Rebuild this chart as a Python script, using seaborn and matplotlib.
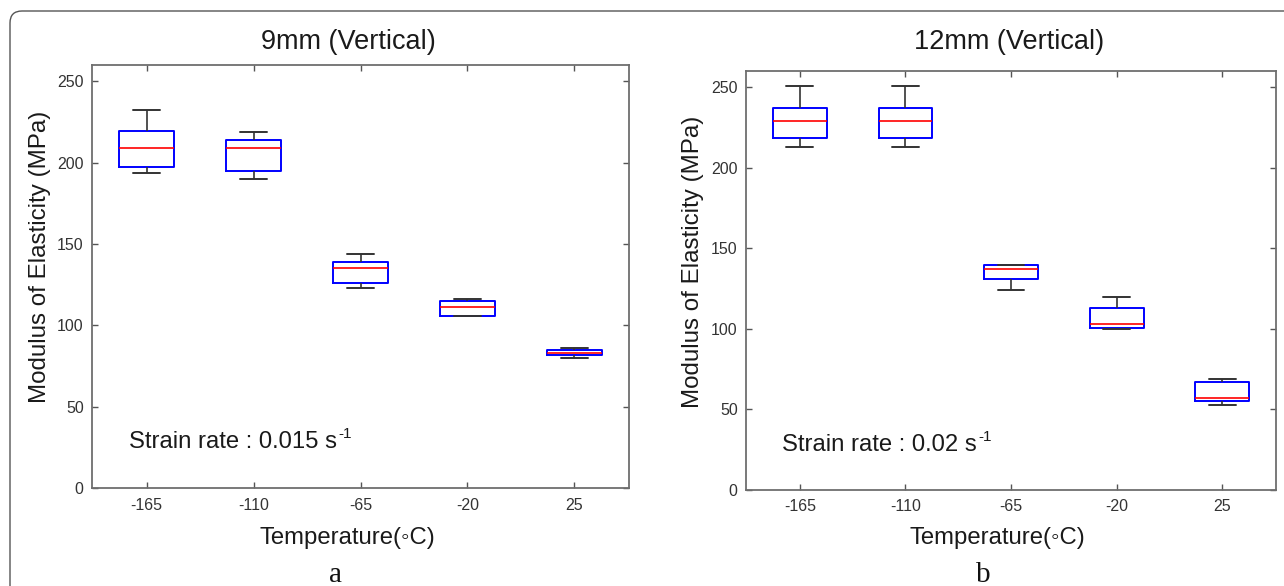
import numpy as np
import pandas as pd
import matplotlib
import matplotlib.pyplot as plt
import matplotlib.patches as mpatches
from matplotlib.transforms import IdentityTransform
import seaborn as sns

temps = ["-165", "-110", "-65", "-20", "25"]

# 9mm (Vertical): whisker low, q1, median, q3, whisker high
mm9_low = [193.9, 190.0, 123.2, 105.5, 80.0]
mm9_q1 = [197.6, 195.1, 125.9, 105.9, 81.6]
mm9_med = [208.9, 208.9, 135.3, 111.0, 83.2]
mm9_q3 = [219.2, 213.7, 138.8, 114.9, 84.6]
mm9_high = [232.1, 218.8, 143.8, 116.0, 86.2]

# 12mm (Vertical)
mm12_low = [212.7, 212.7, 123.8, 99.7, 52.6]
mm12_q1 = [218.5, 218.5, 130.6, 100.6, 54.7]
mm12_med = [228.7, 228.7, 137.1, 103.0, 56.6]
mm12_q3 = [237.0, 237.0, 139.2, 112.9, 66.8]
mm12_high = [250.7, 250.7, 139.6, 119.9, 68.9]

yticks = [0, 50, 100, 150, 200, 250]


def long_df(low, q1, med, q3, high):
    rows = []
    for i, t in enumerate(temps):
        for v in (low[i], q1[i], med[i], q3[i], high[i]):
            rows.append({"Temperature": t, "E": v})
    return pd.DataFrame(rows)


sns.set_style("ticks", {"xtick.direction": "in", "ytick.direction": "in"})
plt.rcParams["font.family"] = ["Liberation Sans", "DejaVu Sans"]

fig = plt.figure(figsize=(12.84, 5.86), dpi=100)
fig.patch.set_facecolor("white")

# panel geometry in pixels: left, top, right, bottom
panels = [
    dict(box=(92, 65, 629, 488), df=long_df(mm9_low, mm9_q1, mm9_med, mm9_q3, mm9_high),
         title="9mm (Vertical)", title_x=348, ylab_x=40, ylab_y=256.5, xlab_x=347,
         note="Strain rate : 0.015 s", note_x=129, note_y=447.7, tag="a", tag_x=336),
    dict(box=(746, 71, 1276, 489.5), df=long_df(mm12_low, mm12_q1, mm12_med, mm12_q3, mm12_high),
         title="12mm (Vertical)", title_x=1009, ylab_x=693, ylab_y=261.6, xlab_x=997,
         note="Strain rate : 0.02 s", note_x=782, note_y=451.4, tag="b", tag_x=983),
]

W, H = 1284, 586
grey_line = "#6e6e6e"
for p in panels:
    l, t, r, b = p["box"]
    ax = fig.add_axes([l / W, 1 - b / H, (r - l) / W, (b - t) / H])
    sns.boxplot(data=p["df"], x="Temperature", y="E", order=temps, ax=ax,
                width=0.51, fill=False, color="blue", whis=(0, 100), linewidth=1.3,
                boxprops=dict(color="blue", linewidth=1.4),
                medianprops=dict(color="red", linewidth=1.2),
                whiskerprops=dict(color="#333333", linewidth=1.2),
                capprops=dict(color="#333333", linewidth=1.4))
    ax.set_xlim(-0.51, 4.51)
    ax.set_ylim(0, 260)
    ax.set_yticks(yticks)
    ax.tick_params(direction="in", length=4, width=1, color="#555555", labelcolor="#333333",
                   labelsize=11.5, top=True, right=True)
    ax.tick_params(axis="x", pad=7)
    ax.tick_params(axis="y", pad=6)
    for s in ax.spines.values():
        s.set_visible(True)
        s.set_color(grey_line)
        s.set_linewidth(1.3)

    ax.set_xlabel("Temperature(\u25e6C)", fontsize=17.2, color="#1a1a1a", va="center")
    ax.xaxis.set_label_coords((p["xlab_x"] - l) / (r - l), (b - 538) / (b - t))
    ax.set_ylabel("Modulus of Elasticity (MPa)", fontsize=17.4, color="#1a1a1a", va="center")
    ax.yaxis.set_label_coords((p["ylab_x"] - l) / (r - l), (b - p["ylab_y"]) / (b - t))

    fig.text(p["title_x"] / W, 1 - 48.6 / H, p["title"], fontsize=19.5, color="#1a1a1a",
             ha="center", va="baseline")
    note = ax.text((p["note_x"] - l) / (r - l), (b - p["note_y"]) / (b - t), p["note"],
                   transform=ax.transAxes, fontsize=17.2, color="#1a1a1a", ha="left", va="baseline")
    # superscript "-1" written as plain hyphen like the original
    ax.annotate("-1", xy=(1, 1), xycoords=note, xytext=(1, 3), textcoords="offset points",
                fontsize=11, color="#1a1a1a", ha="left", va="top")
    fig.text(p["tag_x"] / W, 1 - 582 / H, p["tag"], fontsize=21, family="Liberation Serif",
             color="#111111", ha="center", va="baseline")

# rounded outer frame (top and left edges visible)
frame = mpatches.FancyBboxPatch((10, -60), 1500, H - 11 + 60,
                                boxstyle="round,pad=0,rounding_size=12",
                                fill=False, edgecolor="#555555", linewidth=1.0,
                                transform=IdentityTransform())
fig.add_artist(frame)

fig.savefig("out.png", dpi=100)
